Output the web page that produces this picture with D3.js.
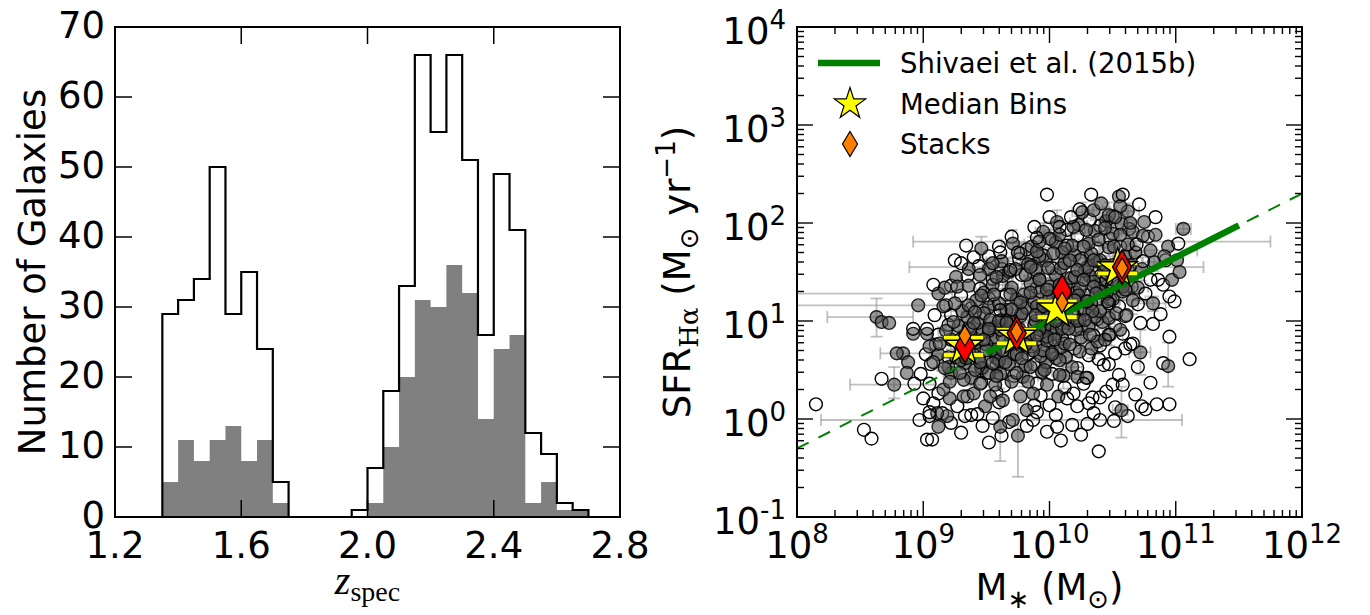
<!DOCTYPE html>
<html><head><meta charset="utf-8">
<script src="https://cdn.jsdelivr.net/npm/d3@7/dist/d3.min.js"></script>
<style>
html,body{margin:0;padding:0;background:#fff;}
text{font-family:"DejaVu Sans",sans-serif;fill:#000;}
</style></head><body>
<svg id="fig" width="1370" height="615" xmlns="http://www.w3.org/2000/svg"></svg>
<script>
// ================= DATA =================
// Left panel: redshift histogram (bin edges, counts)
const binEdges = [1.30,1.35,1.40,1.45,1.50,1.55,1.60,1.65,1.70,1.75,1.80,1.85,1.90,1.95,2.00,2.05,2.10,2.15,2.20,2.25,2.30,2.35,2.40,2.45,2.50,2.55,2.60,2.65,2.70];
const allCounts = [0,29,31,34,50,29,35,24,5,0,0,0,0,1,7,18,33,66,55,66,51,26,49,41,12,9,2,1];
const subCounts = [0,5,11,8,11,13,8,11,2,0,0,0,0,0,2,10,20,31,30,36,32,14,24,26,2,5,1,1];
const zTicks = [1.2,1.6,2.0,2.4,2.8];
const nTicks = [0,10,20,30,40,50,60,70];

// Right panel: values are log10 stellar mass / log10 SFR(Halpha)
const massTickExp = [8,9,10,11,12];
const sfrTickExp = [-1,0,1,2,3,4];

// open circles (outskirts)
const openLogM = [9.34,9.25,9.30,9.40,9.61,9.75,9.90,9.69,9.08,9.09,9.61,8.92,9.03,9.98,10.33,10.58,10.71,10.24,10.17,10.84,10.08,11.02,10.69,10.74,10.80,10.76,10.99,10.45,10.47,10.72,8.67,8.93,9.00,9.05,8.97,9.05,9.03,9.07,9.52,9.82,9.87,9.43,9.38,9.55,10.47,10.60,10.64,10.39,10.47,10.70,11.11,10.27,10.45,10.34,10.58,10.73,10.76,10.85,10.22,10.14,10.00,10.40,10.51,10.06,10.09,10.39,8.15,8.53,8.59];
const openLogSFR = [1.77,1.62,1.59,1.65,1.70,1.70,1.85,1.52,1.37,1.06,1.11,0.92,0.92,2.29,2.29,2.29,2.19,2.14,2.06,2.06,1.96,1.79,1.78,1.61,1.42,1.28,1.20,1.42,1.18,0.98,0.41,0.36,0.21,0.07,-0.01,0.03,-0.21,-0.21,-0.24,-0.07,-0.01,0.05,0.04,0.01,0.86,0.72,0.76,0.61,0.56,0.53,0.61,0.36,0.28,0.22,0.35,0.13,0.10,0.15,0.13,0.21,0.14,-0.01,-0.02,-0.08,-0.22,-0.33,0.15,-0.11,-0.20];
// open circles (inside / around the cloud)
const openCoreLogM = [9.30,9.62,9.98,10.25, 9.22,9.47,9.68,10.18,10.30, 9.15,9.33,9.90,10.05,10.35,10.62, 9.08,9.27,9.60,9.88,10.31,10.52,10.95,
  9.12,9.35,9.58,9.93,10.19,10.40,10.68, 9.05,9.46,9.64,9.90,10.12,10.50,10.80, 8.98,9.50,9.72,10.02,10.30,10.55,
  9.06,9.58,9.88,10.22,10.43,10.90, 9.02,9.20,9.83,10.05,10.31,10.52, 9.10,9.30,9.89,10.20,10.40,10.66,
  9.12,9.40,9.92,10.10,10.35,10.58,10.95, 9.20,9.36,10.08,10.25,10.52,10.82, 9.22,9.45,10.18,10.38,10.60,10.88,
  9.18,9.38,9.56,10.22,10.55,10.70, 9.30,9.52,9.66,10.30,10.48,10.95, 9.22,9.45,9.62,9.90,10.65,10.90,
  9.35,9.55,9.78,10.40,10.86, 9.44,9.62,9.86,10.02,10.62, 9.52,9.76,9.95,10.26,10.92, 9.60,9.82,10.14,10.38,10.56,
  9.70,10.02,10.22,10.48,10.78, 9.88,10.14,10.40,10.63, 10.00,10.32,10.50];
const openCoreLogSFR = [-0.14,-0.17,-0.13,-0.16, -0.04,-0.07,-0.03,-0.06,-0.05, 0.06,0.03,0.07,0.04,0.06,0.03, 0.16,0.13,0.17,0.14,0.16,0.12,0.15,
  0.26,0.23,0.27,0.24,0.26,0.22,0.25, 0.36,0.37,0.34,0.36,0.32,0.35,0.37, 0.46,0.47,0.44,0.46,0.42,0.45,
  0.56,0.54,0.56,0.52,0.55,0.57, 0.66,0.63,0.66,0.62,0.65,0.67, 0.76,0.73,0.76,0.72,0.75,0.77,
  0.86,0.83,0.86,0.82,0.85,0.87,0.84, 0.96,0.93,0.96,0.92,0.95,0.97, 1.06,1.03,1.06,1.02,1.05,1.07,
  1.16,1.13,1.17,1.12,1.15,1.17, 1.26,1.23,1.27,1.26,1.22,1.25, 1.36,1.33,1.37,1.34,1.35,1.37,
  1.46,1.43,1.47,1.46,1.42, 1.56,1.53,1.57,1.54,1.52, 1.66,1.63,1.67,1.64,1.62, 1.76,1.73,1.77,1.74,1.76,
  1.86,1.83,1.87,1.84,1.86, 1.96,1.93,1.97,1.94, 2.06,2.03,2.07];

// grey circles (individually read)
const grayLogM = [9.46,9.90,9.55,9.36,9.45,9.58,9.73,9.81,9.89,9.12,9.17,9.26,9.27,9.36,9.46,9.56,9.69,9.77,9.85,9.16,9.25,9.36,9.48,9.41,9.24,9.53,
  10.55,10.56,10.35,10.41,10.52,10.64,10.75,11.06,10.19,10.29,10.44,10.74,10.84,10.94,10.00,10.12,10.27,10.39,10.51,10.80,10.91,11.01,10.03,10.24,10.35,9.99,10.22,10.97,10.82,10.35,10.27,10.53,10.61,10.37,10.28,9.92,9.98,
  8.92,9.03,8.84,8.88,8.87,9.12,9.19,9.75,9.61,9.49,9.71,9.82,9.32,9.21,9.16,9.40,9.53,9.63,9.77,9.87,9.21,9.32,9.45,9.57,9.70,9.83,9.08,9.17,9.29,9.41,9.52,9.65,9.74,9.85,9.55,9.45,9.05,9.13,9.50,9.63,9.87,
  10.72,10.94,10.24,10.22,10.29,10.57,10.07,9.98,8.63,8.67,8.73,8.77,8.79,9.11,11.03,
  10.00,10.10,10.20,9.92,10.04,10.16,10.44,10.56,9.73,9.61,9.37,9.29,9.48,9.81,10.08,9.96,10.08,9.89,10.08,10.16,10.60,10.64,10.44,10.56,10.32,8.96,9.92,9.85,
  9.60,9.70,9.40,9.95,10.05,10.15,9.52,9.66,9.34,10.12,10.30,9.78,9.90,10.02,9.58];
const grayLogSFR = [1.74,1.71,1.59,1.53,1.47,1.45,1.53,1.47,1.52,1.28,1.34,1.45,1.35,1.36,1.26,1.27,1.27,1.19,1.29,1.15,1.18,1.16,1.08,1.09,0.99,1.01,
  2.27,2.17,2.13,2.20,2.06,2.00,2.01,1.94,1.96,1.93,1.95,1.87,1.88,1.76,1.84,1.74,1.76,1.83,1.76,1.72,1.66,1.62,1.69,1.62,1.62,1.54,1.52,1.42,1.18,1.35,1.42,1.08,1.06,1.28,1.01,1.42,1.32,
  0.87,0.87,0.67,0.58,0.47,-0.08,0.03,-0.17,-0.08,0.13,-0.01,0.09,0.23,0.21,0.30,0.26,0.23,0.19,0.23,0.26,0.38,0.40,0.36,0.35,0.38,0.38,0.58,0.52,0.47,0.50,0.47,0.58,0.47,0.53,0.57,0.58,0.74,0.77,0.70,0.70,0.70,
  0.68,0.54,0.69,0.43,0.42,0.09,0.23,0.35,1.04,0.99,0.98,0.35,0.67,0.06,1.50,
  1.06,1.16,1.21,0.91,0.81,0.76,0.81,0.91,0.91,0.91,0.91,0.81,0.81,0.76,0.60,0.50,0.45,1.06,1.37,1.62,1.32,1.57,1.57,1.88,0.86,1.16,1.81,1.55,
  1.00,1.12,0.98,1.15,1.00,0.92,0.92,0.98,0.62,1.30,1.20,0.62,0.85,0.66,0.44];

// grey circles in the dense core, with their (symmetric, dex) error bars
const coreLogM = [9.22,9.38,9.61,9.79,9.94,10.11, 9.20,9.33,9.47,9.68,9.81,9.97,10.18, 9.12,9.26,9.39,9.58,9.72,9.93,10.02,10.13,
  9.35,9.56,9.78,9.95,10.09,10.33, 9.22,9.42,9.55,9.69,9.84,9.98,10.12,10.25,10.38, 9.18,9.33,9.47,9.66,9.78,9.95,10.05,10.21,10.48,
  9.28,9.43,9.57,9.70,9.88,10.02,10.14,10.31,10.42, 9.35,9.62,9.77,9.95,10.11,10.24,10.36,10.47, 9.31,9.52,9.66,9.82,9.94,10.07,10.28,10.40,
  9.42,9.60,9.74,9.88,10.03,10.15,10.33,10.50,10.66, 9.48,9.80,9.93,10.07,10.21,10.45,10.58, 9.55,9.70,9.85,10.00,10.13,10.24,10.41,10.55,10.70,
  9.63,9.92,10.05,10.17,10.32,10.50,10.62, 9.52,9.68,10.09,10.28,10.43,10.56,10.73, 9.62,9.83,9.97,10.12,10.38,10.50,10.83,
  9.77,9.92,10.10,10.20,10.33,10.60,10.68, 9.71,9.86,10.05,10.18,10.31,10.47,10.62, 9.95,10.08,10.36,10.50,10.66, 10.06,10.23,10.45,10.57, 10.26,10.47,10.62,
  9.30,9.36,9.44,9.50,9.57,9.63,9.70,9.76,9.83,9.89, 9.96,10.01,10.06,10.12,10.18,10.23,10.29,10.35,10.40,10.46,
  9.40,9.52,9.66,9.78,9.90,10.00,10.10,10.20,10.30,10.40, 9.46,9.60,9.74,9.86,9.98,10.10,10.22,10.34,10.46,10.58];
const coreLogSFR = [0.47,0.42,0.46,0.43,0.48,0.44, 0.53,0.57,0.52,0.56,0.54,0.58,0.53, 0.66,0.63,0.67,0.62,0.66,0.64,0.68,0.63,
  0.74,0.71,0.75,0.70,0.73,0.72, 0.81,0.78,0.83,0.79,0.82,0.80,0.77,0.83,0.79, 0.90,0.86,0.89,0.92,0.85,0.89,0.87,0.91,0.86,
  0.95,0.98,0.94,0.99,0.96,0.93,0.98,0.95,0.99, 1.04,1.01,1.05,1.02,1.06,1.01,1.04,1.03, 1.10,1.14,1.11,1.13,1.09,1.14,1.12,1.10,
  1.21,1.18,1.22,1.19,1.23,1.20,1.18,1.22,1.21, 1.29,1.27,1.30,1.26,1.29,1.28,1.30, 1.37,1.34,1.38,1.35,1.37,1.33,1.38,1.36,1.34,
  1.46,1.43,1.47,1.44,1.46,1.42,1.45, 1.53,1.50,1.54,1.51,1.55,1.50,1.53, 1.61,1.58,1.62,1.59,1.61,1.57,1.60,
  1.69,1.66,1.70,1.67,1.69,1.66,1.70, 1.79,1.76,1.80,1.77,1.79,1.75,1.78, 1.91,1.88,1.92,1.89,1.91, 2.01,1.98,2.02,1.99, 2.11,2.08,2.12,
  0.60,0.70,0.62,0.76,0.68,0.84,0.76,0.92,0.86,1.00, 0.94,1.10,1.02,1.18,1.10,1.26,1.20,1.40,1.30,1.48,
  0.80,0.90,1.00,1.08,1.15,1.25,1.32,1.45,1.55,1.62, 0.52,0.60,0.66,0.74,0.84,0.92,1.00,1.10,1.20,1.35];
const coreErrM = [0.06,0.10,0.05,0.12,0.08,0.07, 0.09,0.05,0.11,0.07,0.06,0.10,0.08, 0.07,0.12,0.05,0.09,0.06,0.11,0.08,0.05,
  0.10,0.06,0.08,0.12,0.05,0.09, 0.08,0.05,0.10,0.07,0.12,0.06,0.09,0.05,0.11, 0.06,0.09,0.05,0.11,0.07,0.08,0.12,0.06,0.10,
  0.11,0.07,0.06,0.09,0.05,0.12,0.08,0.07,0.06, 0.05,0.10,0.08,0.06,0.11,0.07,0.09,0.05, 0.09,0.06,0.12,0.05,0.08,0.10,0.06,0.11,
  0.07,0.11,0.05,0.09,0.06,0.08,0.12,0.05,0.10, 0.06,0.08,0.10,0.05,0.12,0.07,0.09, 0.10,0.05,0.07,0.11,0.06,0.09,0.05,0.12,0.08,
  0.08,0.12,0.06,0.09,0.05,0.10,0.07, 0.05,0.09,0.11,0.06,0.08,0.12,0.06, 0.12,0.06,0.08,0.05,0.10,0.07,0.09,
  0.07,0.10,0.05,0.12,0.06,0.09,0.08, 0.09,0.05,0.11,0.07,0.08,0.06,0.10, 0.06,0.12,0.08,0.05,0.09, 0.10,0.07,0.06,0.11, 0.08,0.05,0.09,
  0.07,0.05,0.10,0.06,0.09,0.12,0.05,0.08,0.11,0.06, 0.09,0.05,0.12,0.07,0.06,0.10,0.08,0.05,0.11,0.07,
  0.06,0.09,0.05,0.12,0.08,0.07,0.10,0.06,0.09,0.05, 0.11,0.07,0.06,0.10,0.05,0.08,0.12,0.06,0.09,0.07];
const coreErrSFR = [0.12,0.08,0.15,0.10,0.07,0.13, 0.09,0.14,0.07,0.11,0.16,0.08,0.12, 0.13,0.07,0.10,0.15,0.09,0.12,0.08,0.14,
  0.08,0.12,0.16,0.07,0.11,0.10, 0.10,0.14,0.08,0.12,0.07,0.15,0.09,0.11,0.13, 0.15,0.09,0.12,0.07,0.13,0.10,0.08,0.14,0.11,
  0.07,0.12,0.10,0.14,0.08,0.11,0.16,0.09,0.13, 0.11,0.08,0.13,0.10,0.07,0.15,0.12,0.09, 0.14,0.10,0.07,0.12,0.09,0.13,0.11,0.08,
  0.09,0.13,0.11,0.08,0.15,0.07,0.10,0.12,0.14, 0.12,0.07,0.14,0.10,0.09,0.13,0.08, 0.08,0.11,0.15,0.09,0.12,0.07,0.14,0.10,0.13,
  0.13,0.09,0.08,0.12,0.10,0.14,0.11, 0.10,0.14,0.09,0.13,0.07,0.11,0.12, 0.07,0.12,0.10,0.15,0.08,0.13,0.09,
  0.11,0.08,0.13,0.09,0.14,0.10,0.12, 0.14,0.10,0.07,0.12,0.11,0.09,0.13, 0.09,0.13,0.11,0.08,0.12, 0.12,0.09,0.14,0.10, 0.10,0.13,0.08,
  0.10,0.13,0.08,0.12,0.15,0.09,0.11,0.14,0.07,0.12, 0.08,0.13,0.10,0.15,0.09,0.11,0.07,0.14,0.12,0.10,
  0.13,0.08,0.11,0.09,0.14,0.12,0.07,0.10,0.13,0.15, 0.09,0.12,0.14,0.08,0.11,0.10,0.13,0.07,0.12,0.09];

// larger individual error bars (log10 ends; null = none)
const errLogM   = [9.71,10.57,10.94,10.72,9.75,9.61,8.63,8.77,9.12,8.96,9.92,9.46,9.85,11.06,10.80,8.79,10.35,10.52,10.00,9.41,10.82];
const errLogSFR = [-0.01,0.09,0.54,0.68,-0.17,-0.08,1.04,0.35,1.28,1.16,1.81,1.74,1.55,1.94,1.72,0.67,2.13,2.06,1.84,0.50,1.18];
const errMlo = [8.19,10.50,null,10.63,null,null,8.24,8.42,7.00,7.00,8.92,null,8.89,11.00,10.55,8.66,10.28,10.40,null,null,10.70];
const errMhi = [11.05,10.62,null,10.80,null,null,8.92,9.09,9.23,9.17,11.75,null,11.22,11.12,11.17,9.24,10.42,10.62,null,null,10.92];
const errSlo = [null,-0.19,0.33,0.45,-0.59,-0.43,0.84,0.21,null,null,null,1.62,null,1.90,null,null,2.05,null,1.75,0.35,1.10];
const errShi = [null,0.33,0.78,0.91,0.19,0.19,1.23,0.53,null,null,null,1.86,null,1.99,null,null,2.22,null,1.93,0.62,1.25];

// Shivaei et al. (2015b) relation: dashed full extent and solid fitted range
const fitLogM = [8.0,12.0];
const fitLogSFR = [-0.30,2.30];
const solidLogM = [9.5,11.5];
const solidLogSFR = [0.675,1.975];

// Median bins (stars) with SFR errors
const medLogM = [9.32,9.74,10.06,10.54];
const medLogSFR = [0.74,0.84,1.12,1.54];
const medLo = [0.653,0.772,1.040,1.485];
const medHi = [0.827,0.908,1.200,1.590];

// Stacks (diamonds)
const stackLogM = [9.33,9.74,10.10,10.575];
const redLogSFR = [0.745,0.875,1.30,1.55];
const orangeLogSFR = [0.85,0.89,1.19,1.54];

const legendLabels = ["Shivaei et al. (2015b)","Median Bins","Stacks"];

// ================= DRAW =================
const svg = d3.select("#fig");
const TF = 37, SUP = 26;

// ---- left panel ----
const L = {x0:115,x1:620,y0:27,y1:517};
const xL = d3.scaleLinear().domain([1.2,2.8]).range([L.x0,L.x1]);
const yL = d3.scaleLinear().domain([0,70]).range([L.y1,L.y0]);
const nb = allCounts.length;
const subPts = subCounts.map((c,i)=>[binEdges[i],c]).concat([[binEdges[nb],0]]);
svg.append("path")
  .attr("d", d3.area().x(d=>xL(d[0])).y0(yL(0)).y1(d=>yL(d[1])).curve(d3.curveStepAfter)(subPts))
  .attr("fill","#808080");
const allPts = [[binEdges[0],0]].concat(allCounts.map((c,i)=>[binEdges[i],c])).concat([[binEdges[nb],0]]);
svg.append("path")
  .attr("d", d3.line().x(d=>xL(d[0])).y(d=>yL(d[1])).curve(d3.curveStepAfter)(allPts))
  .attr("fill","none").attr("stroke","#000").attr("stroke-width",2.2).attr("stroke-linejoin","miter");

const gL = svg.append("g").attr("stroke","#000").attr("stroke-width",1.5);
zTicks.forEach(v=>{
  const x = xL(v);
  gL.append("line").attr("x1",x).attr("x2",x).attr("y1",L.y1).attr("y2",L.y1-17);
  gL.append("line").attr("x1",x).attr("x2",x).attr("y1",L.y0).attr("y2",L.y0+17);
  svg.append("text").attr("x",x).attr("y",558).attr("text-anchor","middle").attr("font-size",TF).text(d3.format(".1f")(v));
});
nTicks.forEach(v=>{
  const y = yL(v);
  gL.append("line").attr("x1",L.x0).attr("x2",L.x0+17).attr("y1",y).attr("y2",y);
  gL.append("line").attr("x1",L.x1).attr("x2",L.x1-17).attr("y1",y).attr("y2",y);
  svg.append("text").attr("x",L.x0-10).attr("y",y+11).attr("text-anchor","end").attr("font-size",TF).text(v);
});
svg.append("rect").attr("x",L.x0).attr("y",L.y0).attr("width",L.x1-L.x0).attr("height",L.y1-L.y0)
  .attr("fill","none").attr("stroke","#000").attr("stroke-width",2);
svg.append("text").attr("transform",`translate(45,${(L.y0+L.y1)/2}) rotate(-90)`).attr("text-anchor","middle")
  .attr("font-size",TF).text("Number of Galaxies");
const zl = svg.append("text").attr("x",(L.x0+L.x1)/2).attr("y",594).attr("text-anchor","middle")
  .style("font-family","'Liberation Serif',serif");
zl.append("tspan").attr("font-size",40).attr("font-style","italic").text("z");
zl.append("tspan").attr("font-size",28).attr("dy",7).text("spec");

// ---- right panel ----
const R = {x0:797,x1:1302,y0:27,y1:517};
const xR = d3.scaleLog().domain([1e8,1e12]).range([R.x0,R.x1]);
const yR = d3.scaleLog().domain([0.1,1e4]).range([R.y1,R.y0]);
const X = m=>xR(Math.pow(10,m)), Y = s=>yR(Math.pow(10,s));

svg.append("clipPath").attr("id","clipR").append("rect")
  .attr("x",R.x0).attr("y",R.y0).attr("width",R.x1-R.x0).attr("height",R.y1-R.y0);
const gR = svg.append("g").attr("clip-path","url(#clipR)");

// error bars
const gE = gR.append("g").attr("stroke","#8c8c8c").attr("stroke-width",1.8).attr("stroke-opacity",0.55);
function hbar(a,b,cy,cap){ gE.append("line").attr("x1",a).attr("x2",b).attr("y1",cy).attr("y2",cy);
  gE.append("line").attr("x1",a).attr("x2",a).attr("y1",cy-cap).attr("y2",cy+cap);
  gE.append("line").attr("x1",b).attr("x2",b).attr("y1",cy-cap).attr("y2",cy+cap); }
function vbar(a,b,cx,cap){ gE.append("line").attr("x1",cx).attr("x2",cx).attr("y1",a).attr("y2",b);
  gE.append("line").attr("x1",cx-cap).attr("x2",cx+cap).attr("y1",a).attr("y2",a);
  gE.append("line").attr("x1",cx-cap).attr("x2",cx+cap).attr("y1",b).attr("y2",b); }
coreLogM.forEach((m,i)=>{
  const s = coreLogSFR[i];
  hbar(X(m-coreErrM[i]), X(m+coreErrM[i]), Y(s), 5);
  vbar(Y(s-coreErrSFR[i]), Y(s+coreErrSFR[i]), X(m), 5);
});
errLogM.forEach((m,i)=>{
  const cx = X(m), cy = Y(errLogSFR[i]);
  if (errMlo[i]!==null) hbar(X(errMlo[i]), X(errMhi[i]), cy, 6);
  if (errSlo[i]!==null) vbar(Y(errSlo[i]), Y(errShi[i]), cx, 6);
});

function circles(ms, ss, filled){
  gR.append("g").selectAll("circle").data(ms.map((m,i)=>[m,ss[i]])).join("circle")
    .attr("cx",d=>X(d[0])).attr("cy",d=>Y(d[1])).attr("r",6.4)
    .attr("fill",filled?"#555":"none").attr("fill-opacity",filled?0.6:0)
    .attr("stroke","#000").attr("stroke-opacity",filled?0.85:1).attr("stroke-width",1.4);
}
circles(openCoreLogM, openCoreLogSFR, false);
circles(coreLogM, coreLogSFR, true);
circles(grayLogM, grayLogSFR, true);
circles(openLogM, openLogSFR, false);

// Shivaei relation
const lineGen = d3.line().x(d=>X(d[0])).y(d=>Y(d[1]));
gR.append("path").attr("d",lineGen(fitLogM.map((m,i)=>[m,fitLogSFR[i]])))
  .attr("stroke","#008000").attr("stroke-width",2).attr("stroke-dasharray","13,11").attr("fill","none");
gR.append("path").attr("d",lineGen(solidLogM.map((m,i)=>[m,solidLogSFR[i]])))
  .attr("stroke","#008000").attr("stroke-width",6.5).attr("fill","none");

function starPath(Ro){
  const ri = Ro*0.382, pts=[];
  for(let k=0;k<10;k++){
    const r = k%2===0?Ro:ri, a = -Math.PI/2 + k*Math.PI/5;
    pts.push([r*Math.cos(a), r*Math.sin(a)]);
  }
  return "M"+pts.map(p=>p[0].toFixed(2)+","+p[1].toFixed(2)).join("L")+"Z";
}
function diamondPath(h,w){ return `M0,${-h/2}L${w/2},0L0,${h/2}L${-w/2},0Z`; }

// median bins: caps + stars
medLogM.forEach((m,i)=>{
  const cx = X(m);
  gR.append("line").attr("x1",cx).attr("x2",cx).attr("y1",Y(medLo[i])).attr("y2",Y(medHi[i]))
    .attr("stroke","#ffff00").attr("stroke-width",2.5);
  [medLo[i],medHi[i]].forEach(v=>{
    gR.append("rect").attr("x",cx-20).attr("y",Y(v)-2.3).attr("width",40).attr("height",4.6)
      .attr("fill","#ffff00").attr("stroke","#333").attr("stroke-width",0.7);
  });
});
medLogM.forEach((m,i)=>{
  gR.append("path").attr("d",starPath(20.5)).attr("transform",`translate(${X(m)},${Y(medLogSFR[i])})`)
    .attr("fill","#ffff00").attr("stroke","#000").attr("stroke-width",1.5).attr("stroke-linejoin","miter");
});
stackLogM.forEach((m,i)=>{
  gR.append("path").attr("d",diamondPath(34,19)).attr("transform",`translate(${X(m)},${Y(redLogSFR[i])})`)
    .attr("fill","#ff0000").attr("stroke","#000").attr("stroke-width",1.5);
});
stackLogM.forEach((m,i)=>{
  gR.append("path").attr("d",diamondPath(21,12)).attr("transform",`translate(${X(m)},${Y(orangeLogSFR[i])})`)
    .attr("fill","#ff8000").attr("stroke","#000").attr("stroke-width",1.3);
});

// legend
svg.append("line").attr("x1",818).attr("x2",880).attr("y1",63).attr("y2",63)
  .attr("stroke","#008000").attr("stroke-width",6.5);
svg.append("path").attr("d",starPath(16.5)).attr("transform","translate(850,104)")
  .attr("fill","#ffff00").attr("stroke","#000").attr("stroke-width",1.2);
svg.append("path").attr("d",diamondPath(25,15)).attr("transform","translate(850,144)")
  .attr("fill","#ff8000").attr("stroke","#000").attr("stroke-width",1.2);
[73,114,154].forEach((yb,i)=>{
  svg.append("text").attr("x",900).attr("y",yb).attr("font-size",27.5).text(legendLabels[i]);
});

// ticks right
const gT = svg.append("g").attr("stroke","#000").attr("stroke-width",1.4);
massTickExp.forEach((e,i)=>{
  const x = xR(Math.pow(10,e));
  gT.append("line").attr("x1",x).attr("x2",x).attr("y1",R.y1).attr("y2",R.y1-16);
  gT.append("line").attr("x1",x).attr("x2",x).attr("y1",R.y0).attr("y2",R.y0+16);
  if (i<massTickExp.length-1) for(let k=2;k<10;k++){
    const xm = xR(k*Math.pow(10,e));
    gT.append("line").attr("x1",xm).attr("x2",xm).attr("y1",R.y1).attr("y2",R.y1-7);
    gT.append("line").attr("x1",xm).attr("x2",xm).attr("y1",R.y0).attr("y2",R.y0+7);
  }
  const t = svg.append("text").attr("x",x).attr("y",558).attr("text-anchor","middle").attr("font-size",TF);
  t.append("tspan").text("10");
  t.append("tspan").attr("font-size",SUP).attr("dy",-15).text(e);
});
sfrTickExp.forEach((e,i)=>{
  const y = yR(Math.pow(10,e));
  gT.append("line").attr("x1",R.x0).attr("x2",R.x0+16).attr("y1",y).attr("y2",y);
  gT.append("line").attr("x1",R.x1).attr("x2",R.x1-16).attr("y1",y).attr("y2",y);
  if (i<sfrTickExp.length-1) for(let k=2;k<10;k++){
    const ym = yR(k*Math.pow(10,e));
    gT.append("line").attr("x1",R.x0).attr("x2",R.x0+7).attr("y1",ym).attr("y2",ym);
    gT.append("line").attr("x1",R.x1).attr("x2",R.x1-7).attr("y1",ym).attr("y2",ym);
  }
  const t = svg.append("text").attr("x",786).attr("y",y+17).attr("text-anchor","end").attr("font-size",TF);
  t.append("tspan").text("10");
  t.append("tspan").attr("font-size",SUP).attr("dy",-15).text(e<0?"-"+(-e):e);
});
svg.append("rect").attr("x",R.x0).attr("y",R.y0).attr("width",R.x1-R.x0).attr("height",R.y1-R.y0)
  .attr("fill","none").attr("stroke","#000").attr("stroke-width",2);

// axis labels right
const yl = svg.append("text").attr("transform",`translate(690,${(R.y0+R.y1)/2}) rotate(-90)`)
  .attr("text-anchor","middle").attr("font-size",TF);
yl.append("tspan").text("SFR");
yl.append("tspan").attr("font-size",SUP).attr("dy",8).style("font-family","'DejaVu Serif',serif").text("Hα");
yl.append("tspan").attr("dy",-8).text(" (M");
yl.append("tspan").attr("font-size",SUP).attr("dy",8).text("⊙");
yl.append("tspan").attr("dy",-8).text(" yr");
yl.append("tspan").attr("font-size",SUP).attr("dy",-15).text("−1");
yl.append("tspan").attr("dy",15).text(")");

const xl = svg.append("text").attr("x",(R.x0+R.x1)/2).attr("y",600).attr("text-anchor","middle").attr("font-size",TF);
xl.append("tspan").text("M");
xl.append("tspan").attr("font-size",SUP).attr("dy",8).text("∗");
xl.append("tspan").attr("dy",-8).text("  (M");
xl.append("tspan").attr("font-size",SUP).attr("dy",8).text("⊙");
xl.append("tspan").attr("dy",-8).text(")");
</script></body></html>
